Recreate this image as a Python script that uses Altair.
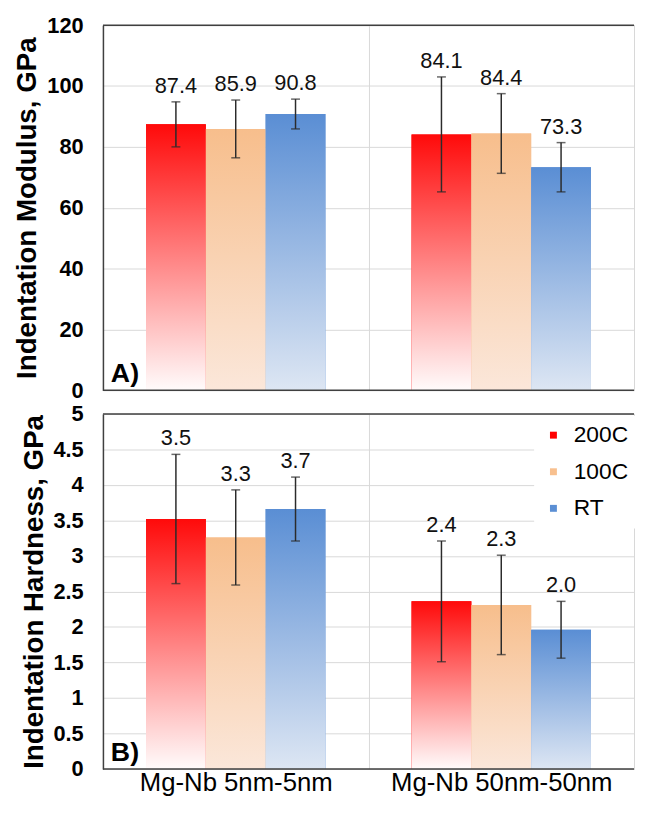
import altair as alt
import pandas as pd

groups = ["Mg-Nb 5nm-5nm", "Mg-Nb 50nm-50nm"]
series = ["200C", "100C", "RT"]

# values listed group by group, series order 200C, 100C, RT
modulus = [87.4, 85.9, 90.8, 84.1, 84.4, 73.3]
modulus_err = [7.4, 9.5, 4.9, 18.9, 13.1, 8.1]
hardness = [3.52, 3.26, 3.66, 2.36, 2.31, 1.96]
hardness_err = [0.91, 0.67, 0.45, 0.85, 0.70, 0.40]

modulus_ticks = [0, 20, 40, 60, 80, 100, 120]
hardness_ticks = [0, 0.5, 1, 1.5, 2, 2.5, 3, 3.5, 4, 4.5, 5]

solid_colors = ["#FF0000", "#F8C08F", "#5B8FD4"]
grad_top = ["#FF0A0A", "#F7BE8C", "#5A8ED4"]
grad_bottom = ["#FFFBFB", "#FBE7DA", "#DDE6F3"]

FONT = "Liberation Sans"
BORDER = "#404040"
GRID = "#D9D9D9"
W = 537


def make_df(vals, errs):
    rows = []
    k = 0
    for g in groups:
        for s in series:
            v, e = vals[k], errs[k]
            rows.append({"group": g, "series": s, "value": v,
                         "lo": v - e, "hi": v + e, "label": f"{v:.1f}"})
            k += 1
    return pd.DataFrame(rows)


def panel(vals, errs, ticks, ytitle, plabel, height, bottom, fmt):
    df = make_df(vals, errs)
    xaxis = alt.Axis(
        title=None, ticks=False, grid=True, gridColor=GRID, gridWidth=1,
        tickBand="extent", domain=False,
        labels=bottom, labelFontSize=26, labelColor="#000000",
        labelPadding=1, labelFont=FONT, labelAngle=0, labelLimit=0,
        labelOverlap=False,
    )
    xscale = alt.Scale(paddingInner=0, paddingOuter=0)
    xenc = alt.X("group:N", sort=groups, axis=xaxis, scale=xscale)
    xoff = alt.XOffset("series:N", sort=series,
                       scale=alt.Scale(paddingInner=0, paddingOuter=0.72))
    yscale = alt.Scale(domain=[ticks[0], ticks[-1]], nice=False, zero=True)
    yaxis = alt.Axis(
        title=ytitle, values=ticks, tickCount=len(ticks), format=fmt,
        ticks=False, grid=True,
        gridColor=GRID, gridWidth=1, domain=True, domainColor=BORDER,
        domainWidth=1.5, labelFontSize=22, labelFontWeight="bold",
        labelColor="#000000", labelPadding=20, labelFont=FONT,
        labelOverlap=False,
        titleFontSize=28, titleFontWeight="bold", titleColor="#000000",
        titleFont=FONT, titlePadding=5,
    )

    def Y(field):
        return alt.Y(field, scale=yscale, axis=yaxis, title=ytitle)

    base = alt.Chart(df)
    legend = None
    if bottom:
        legend = alt.Legend(
            title=None, orient="none", legendX=436, legendY=2,
            fillColor="#FFFFFF", padding=8, symbolType="square",
            symbolSize=49, symbolStrokeWidth=0, symbolOpacity=1,
            labelFontSize=23, labelFont=FONT, labelColor="#000000",
            labelOffset=9, rowPadding=13,
        )
    solid = base.mark_bar().encode(
        x=xenc, xOffset=xoff, y=Y("value:Q"),
        color=alt.Color("series:N", sort=series,
                        scale=alt.Scale(domain=series, range=solid_colors),
                        legend=legend),
    )
    layers = [solid]
    for i, s in enumerate(series):
        grad = alt.Gradient(
            gradient="linear",
            stops=[alt.GradientStop(color=grad_top[i], offset=0),
                   alt.GradientStop(color=grad_bottom[i], offset=1)],
            x1=0, x2=0, y1=0, y2=1,
        )
        layers.append(
            base.transform_filter(alt.datum.series == s)
            .mark_bar(color=grad)
            .encode(x=xenc, xOffset=xoff, y=Y("value:Q"))
        )
    err = base.mark_rule(color="#2B2B2B", strokeWidth=1.5).encode(
        x=xenc, xOffset=xoff, y=Y("lo:Q"), y2="hi:Q")
    cap_lo = base.mark_tick(color="#2B2B2B", orient="horizontal", size=9,
                            thickness=1.5).encode(
        x=xenc, xOffset=xoff, y=Y("lo:Q"))
    cap_hi = base.mark_tick(color="#2B2B2B", orient="horizontal", size=9,
                            thickness=1.5).encode(
        x=xenc, xOffset=xoff, y=Y("hi:Q"))
    text = base.mark_text(fontSize=22, font=FONT, color="#111111",
                          baseline="alphabetic", dy=-9).encode(
        x=xenc, xOffset=xoff, y=Y("hi:Q"), text="label:N")
    plab = alt.Chart(pd.DataFrame({"t": [plabel]})).mark_text(
        fontSize=27, fontWeight="bold", font=FONT, color="#000000",
        align="left", baseline="alphabetic").encode(
        x=alt.value(8), y=alt.value(height - 8), text="t:N")
    frame = pd.DataFrame({"pos": ["top", "bottom"]})
    top_border = alt.Chart(frame).transform_filter(
        alt.datum.pos == "top").mark_rule(
        color=BORDER, strokeWidth=1.5).encode(y=alt.value(0))
    bottom_border = alt.Chart(frame).transform_filter(
        alt.datum.pos == "bottom").mark_rule(
        color=BORDER, strokeWidth=1.5).encode(y=alt.value(height))
    layers += [err, cap_lo, cap_hi, text, plab, top_border, bottom_border]
    return alt.layer(*layers).properties(width=W, height=height)


top = panel(modulus, modulus_err, modulus_ticks, "Indentation Modulus, GPa",
            "A)", 369, False, "d")
bot = panel(hardness, hardness_err, hardness_ticks, "Indentation Hardness, GPa",
            "B)", 359, True, "~g")

chart = (
    alt.vconcat(top, bot, spacing=0)
    .resolve_scale(color="independent")
    .resolve_legend(color="independent")
    .properties(padding={"left": 5, "top": 1, "right": 0, "bottom": 0})
    .configure_view(stroke="transparent", strokeWidth=0)
    .configure(font=FONT)
)

chart.save("out.html", embed_options={"renderer": "svg", "actions": False})
